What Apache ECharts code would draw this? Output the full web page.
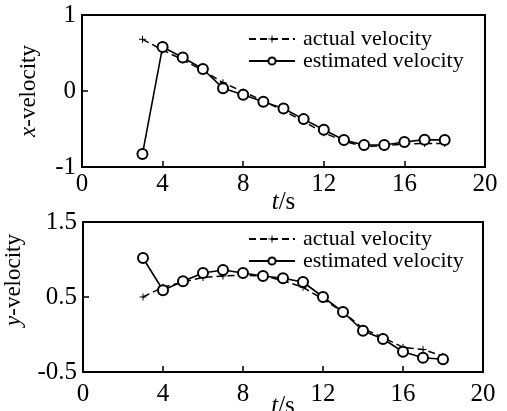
<!DOCTYPE html>
<html>
<head>
<meta charset="utf-8">
<script src="https://cdn.jsdelivr.net/npm/echarts@6/dist/echarts.min.js"></script>
<style>html,body{margin:0;padding:0;background:#fff;}#c{width:507px;height:411px;}</style>
</head>
<body>
<div id="c"></div>
<script>
// ---- data ----
var tValues = [3,4,5,6,7,8,9,10,11,12,13,14,15,16,17,18];
var xActual = [0.68,0.54,0.41,0.27,0.11,-0.01,-0.13,-0.26,-0.40,-0.55,-0.66,-0.73,-0.72,-0.70,-0.69,-0.69];
var xEstimated = [-0.83,0.58,0.44,0.29,0.035,-0.05,-0.14,-0.23,-0.37,-0.51,-0.645,-0.71,-0.71,-0.67,-0.64,-0.645];
var yActual = [0.50,0.63,0.70,0.76,0.78,0.79,0.78,0.72,0.63,0.47,0.30,0.08,-0.04,-0.17,-0.20,-0.29];
var yEstimated = [1.02,0.59,0.71,0.82,0.86,0.82,0.78,0.75,0.70,0.50,0.30,0.05,-0.06,-0.23,-0.31,-0.33];
var xTicks = [0,4,8,12,16,20];
var topYTicks = [-1,0,1];
var botYTicks = [-0.5,0.5,1.5];
var nameActual = 'actual velocity';
var nameEstimated = 'estimated velocity';

function pairs(xs, ys){ return xs.map(function(x,i){ return [x, ys[i]]; }); }

var FONT = 'Liberation Serif';
var plusPath = 'path://M4.3,0H5.7V4.3H10V5.7H5.7V10H4.3V5.7H0V4.3H4.3Z';

function xAxisCfg(gi, gap, margin){
  return {
    type:'value', gridIndex:gi, min:0, max:20, interval:4,
    axisLine:{show:true, onZero:false, lineStyle:{color:'#000', width:2}},
    axisTick:{show:true, inside:true, length:6, customValues:xTicks, lineStyle:{color:'#000', width:1.5}},
    axisLabel:{color:'#000', fontFamily:FONT, fontSize:25, margin:margin, customValues:xTicks},
    splitLine:{show:false},
    name:'{i|t}/s', nameLocation:'middle', nameGap:gap, nameMoveOverlap:false,
    nameTextStyle:{color:'#000', fontFamily:FONT, fontSize:25, rich:{i:{fontStyle:'italic', fontFamily:FONT, fontSize:25, color:'#000'}}}
  };
}
function yAxisCfg(gi, mn, mx, ticks, nm, gap, pad){
  return {
    type:'value', gridIndex:gi, min:mn, max:mx,
    axisLine:{show:true, onZero:false, lineStyle:{color:'#000', width:2}},
    axisTick:{show:true, inside:true, length:6, customValues:ticks, lineStyle:{color:'#000', width:1.5}},
    axisLabel:{color:'#000', fontFamily:FONT, fontSize:25, margin:6, customValues:ticks,
      formatter:function(v){ return String(v); }},
    splitLine:{show:false},
    name:nm, nameLocation:'middle', nameGap:gap, nameRotate:90, nameMoveOverlap:false,
    nameTextStyle:{color:'#000', fontFamily:FONT, fontSize:23, padding:pad,
      rich:{i:{fontStyle:'italic', fontFamily:FONT, fontSize:23, color:'#000'}}}
  };
}
function actualSeries(xi, data){
  return {
    name:nameActual, type:'line', xAxisIndex:xi, yAxisIndex:xi,
    data:pairs(tValues, data),
    symbol:plusPath, symbolSize:7, showSymbol:true,
    itemStyle:{color:'#000'},
    lineStyle:{color:'#000', width:1.5, type:[7,4]},
    z:2, animation:false
  };
}
function estSeries(xi, data){
  return {
    name:nameEstimated, type:'line', xAxisIndex:xi, yAxisIndex:xi,
    data:pairs(tValues, data),
    symbol:'emptyCircle', symbolSize:10, showSymbol:true,
    itemStyle:{color:'#000', borderColor:'#000', borderWidth:1.5},
    lineStyle:{color:'#000', width:1.6, type:'solid'},
    z:3, animation:false
  };
}
function legendCfg(top){
  return {
    data:[nameActual, nameEstimated], orient:'vertical', left:243, top:top,
    itemWidth:46, itemHeight:9, itemGap:0,
    textStyle:{color:'#000', fontFamily:FONT, fontSize:22, lineHeight:19, padding:[0,0,0,3]},
    selectedMode:false
  };
}

var chart = echarts.init(document.getElementById('c'), null, {renderer:'canvas'});
chart.setOption({
  backgroundColor:'#fff',
  animation:false,
  grid:[
    {left:82, right:22, top:15, height:152, show:true, borderColor:'#000', borderWidth:2, containLabel:false, outerBoundsMode:'none'},
    {left:83, right:24, top:222, height:150, show:true, borderColor:'#000', borderWidth:2, containLabel:false, outerBoundsMode:'none'}
  ],
  xAxis:[xAxisCfg(0, 23, 5), xAxisCfg(1, 22, 10)],
  yAxis:[
    yAxisCfg(0, -1, 1, topYTicks, '{i|x}-velocity', 42, [0,0,0,0]),
    yAxisCfg(1, -0.5, 1.5, botYTicks, '{i|y}-velocity', 58, [0,0,0,34])
  ],
  legend:[legendCfg(23), legendCfg(223)],
  series:[
    actualSeries(0, xActual), estSeries(0, xEstimated),
    actualSeries(1, yActual), estSeries(1, yEstimated)
  ]
});
</script>
</body>
</html>
